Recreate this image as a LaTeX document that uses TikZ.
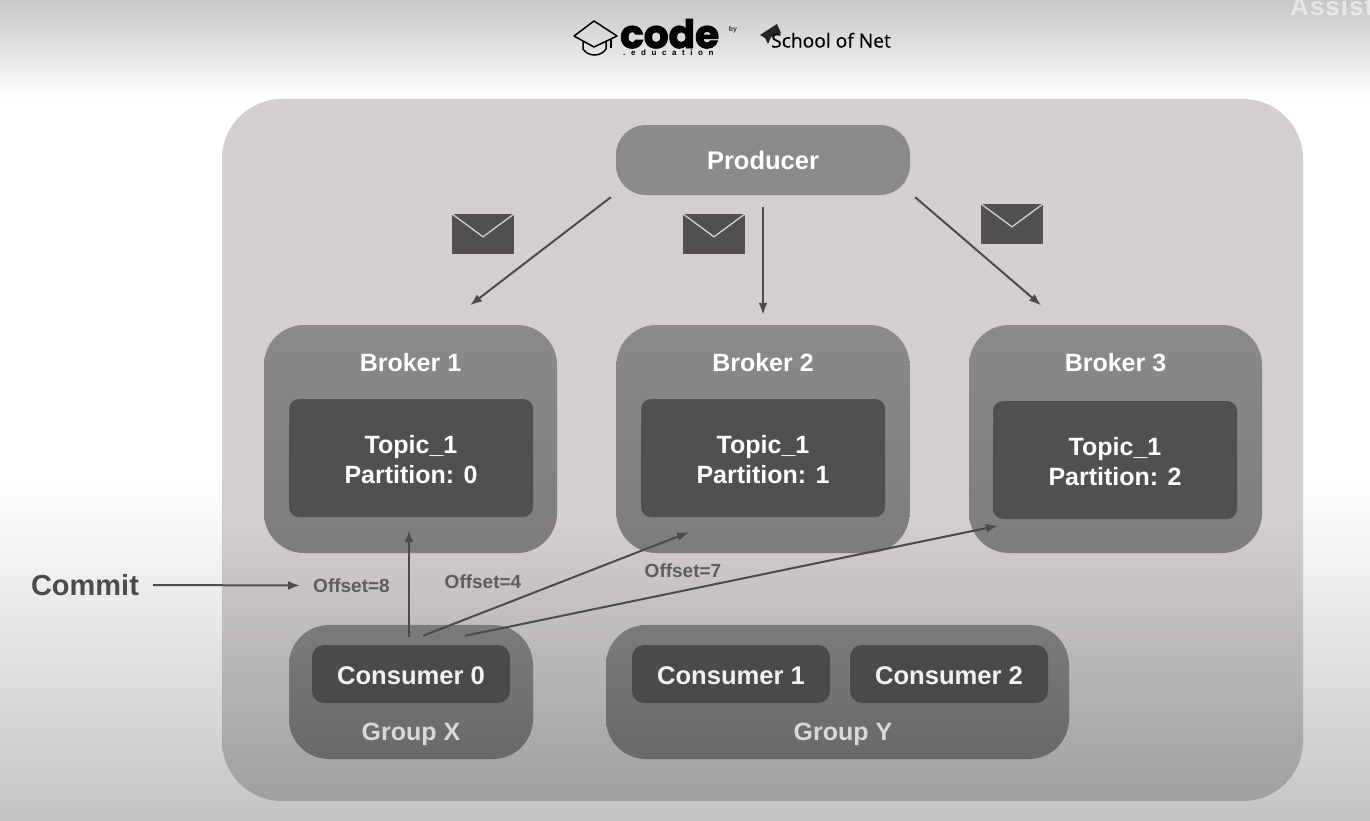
\documentclass[tikz,border=0pt]{standalone}
\usepackage{fontspec}
\setmainfont{Liberation Sans}
\newfontfamily\logofont[BoldFeatures={FakeBold=2.5}]{Poppins}
\newfontfamily\spacedfont[LetterSpace=70]{Liberation Sans}
\newfontfamily\schoolfont[FakeBold=0.6]{Open Sans}
\usepackage{tikz}
\usetikzlibrary{arrows.meta,positioning}
\pgfdeclareverticalshading{pageshade}{100bp}{color(0bp)=(white!77!black); color(25bp)=(white!77!black); color(45.7bp)=(white); color(68.9bp)=(white); color(75bp)=(white!78!black); color(100bp)=(white!78!black)}
\definecolor{boxtop}{HTML}{D3CFD0}
\definecolor{boxbottom}{HTML}{A09E9F}
\pgfdeclareverticalshading{boxshade}{100bp}{color(0bp)=(boxbottom); color(25bp)=(boxbottom); color(45bp)=(boxtop); color(75bp)=(boxtop); color(100bp)=(boxtop)}
\definecolor{brokertop}{HTML}{8B898C}
\definecolor{brokerbottom}{HTML}{7E7C7F}
\definecolor{grouptop}{HTML}{7B7A7C}
\definecolor{groupbottom}{HTML}{69686B}
\definecolor{darkfill}{HTML}{514F51}
\definecolor{linegray}{HTML}{4C4A4C}
\definecolor{mailflap}{HTML}{D3CFD0}
\begin{document}
\begin{tikzpicture}[x=1pt,y=-1pt]
          \tikzstyle{broker}=[rectangle,rounded corners=40pt,top color=brokertop,bottom color=brokerbottom,minimum width=293pt,minimum height=228pt]
          \tikzstyle{topic}=[rectangle,rounded corners=10pt,fill=darkfill,text=white,align=center,minimum width=244pt,minimum height=118pt,text height=52pt,font=\fontsize{25}{30.5}\selectfont\bfseries]
          \tikzstyle{group}=[rectangle,rounded corners=40pt,top color=grouptop,bottom color=groupbottom,minimum height=134pt]
          \tikzstyle{consumer}=[rectangle,rounded corners=12pt,fill=darkfill!92!black,text=white!95!black,minimum width=198pt,minimum height=58pt,text height=21pt,text depth=0pt,font=\fontsize{25.6}{30}\selectfont\bfseries]
          \tikzstyle{title}=[text=white,inner sep=0pt,font=\fontsize{25}{30}\selectfont\bfseries]
          \tikzstyle{grouptitle}=[text=white!85!black,inner sep=0pt,font=\fontsize{25}{30}\selectfont\bfseries]
          \tikzstyle{offset}=[text=linegray!90!white,inner sep=0pt,font=\fontsize{19}{22}\selectfont\bfseries]
          \tikzstyle{mail}=[rectangle,fill=darkfill,minimum width=62pt,minimum height=40pt]
          \tikzstyle{flow}=[-{Latex[length=12pt,width=9pt]},line width=2pt,color=linegray]

          \clip (0,0) rectangle (1370,820);
          \shade[shading=pageshade] (0,0) rectangle (1370,820);
          \node[text=white!91!black,anchor=base west,inner sep=0pt,font=\fontsize{26}{30}\selectfont\bfseries\addfontfeatures{LetterSpace=4}](assist) at (1290,15){Assist};

          \draw[line width=1.5pt,black,line join=round] (574,36) -- (594,21) -- (617,36) -- (594,47) -- cycle;
          \draw[line width=1.5pt,black] (583,41) -- (583,49) .. controls (588,57) and (601,57) .. (606,49) -- (606,42);
          \draw[line width=1.2pt,black] (611,39) -- (611,48);
          \node[anchor=base west,inner sep=0pt,text=black,font=\fontsize{39}{39}\logofont\bfseries](codelogo) at (620,48){code};
          \node[anchor=base west,inner sep=0pt,text=black,font=\fontsize{8}{8}\spacedfont\bfseries](edulogo) at (623,55){.education};
          \node[inner sep=0pt,text=black!80,font=\fontsize{7}{8}\selectfont\bfseries](bylogo) at (733,30){by};
          \fill[black!85] (760,35) -- (777,24) -- (781,33) -- (771,37) -- (768,44) -- (765,38) -- cycle;
          \node[anchor=base west,inner sep=0pt,text=black,font=\fontsize{19.2}{24}\schoolfont](schoollogo) at (771,47.5){School of Net};

          \node[rectangle,rounded corners=60pt,shading=boxshade,minimum width=1081pt,minimum height=702pt](cluster) at (762.5,450){};

          \node[rectangle,rounded corners=30pt,top color=brokertop,bottom color=brokertop,minimum width=294pt,minimum height=70pt,text=white,font=\fontsize{25.5}{30}\selectfont\bfseries](producer) at (763,160){Producer};

          \node[broker](broker1) at (410.5,439){};
          \node[broker,right of=broker1,node distance=352.5pt](broker2){};
          \node[broker,right of=broker2,node distance=352.5pt](broker3){};
          \node[title](title1) at (410.5,363){Broker 1};
          \node[title,right of=title1,node distance=352.5pt](title2){Broker 2};
          \node[title,right of=title2,node distance=352.5pt](title3){Broker 3};
          \node[topic](topic1) at (411,458){Topic\_1\\Partition: 0};
          \node[topic,right of=topic1,node distance=352pt](topic2){Topic\_1\\Partition: 1};
          \node[topic,right of=topic2,node distance=352pt,yshift=-2pt](topic3){Topic\_1\\Partition: 2};

          \node[group,minimum width=244pt](groupx) at (411,692){};
          \node[group,minimum width=463pt,right of=groupx,node distance=426.5pt](groupy){};
          \node[consumer](consumer0) at (411,674){Consumer 0};
          \node[consumer,right of=consumer0,node distance=320pt](consumer1){Consumer 1};
          \node[consumer,right of=consumer1,node distance=218pt](consumer2){Consumer 2};
          \node[grouptitle](titlex) at (411,734){Group X};
          \node[grouptitle](titley) at (843,734){Group Y};

          \node[mail](mail1) at (483,234){};
          \node[mail](mail2) at (714,234){};
          \node[mail](mail3) at (1012,224){};
          \foreach \m in {mail1,mail2,mail3}
            \draw[line width=1.3pt,draw=mailflap] (\m.north west) -- ([yshift=-23pt]\m.north) -- (\m.north east);

          \node[text=linegray,inner sep=0pt,font=\fontsize{29}{34}\selectfont\bfseries](commit) at (85,585){Commit};
          \node[offset](offset8) at (351.5,585.5){Offset=8};
          \node[offset](offset4) at (483,581.5){Offset=4};
          \node[offset](offset7) at (683,570.5){Offset=7};

          \path[flow]
          ([shift={(-5,2)}]producer.south west) edge ([shift={(59.5,-19.5)}]broker1.north)
          ([shift={(0,12)}]producer.south) edge ([shift={(0,-10)}]broker2.north)
          ([shift={(5,2)}]producer.south east) edge ([shift={(-74.5,-19.5)}]broker3.north)
          ([shift={(14,0)}]commit.east) edge ([shift={(-13,0)}]offset8.west)
          ([shift={(-2,-8)}]consumer0.north) edge ([shift={(-1.5,-23)}]broker1.south)
          ([shift={(12,-9)}]consumer0.north) edge ([shift={(-74,-21)}]broker2.south)
          ([shift={(54,-9)}]consumer0.north) edge ([shift={(-117.5,-27.5)}]broker3.south);
        \end{tikzpicture}
\end{document}
